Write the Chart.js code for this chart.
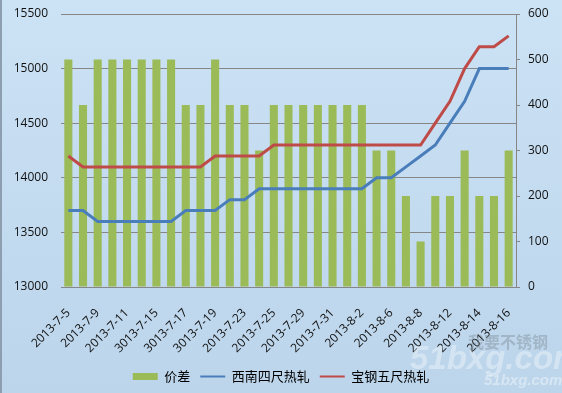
<!DOCTYPE html>
<html>
<head>
<meta charset="utf-8">
<script src="https://cdn.jsdelivr.net/npm/chart.js@4.4.1/dist/chart.umd.min.js"></script>
<style>
    html, body { margin: 0; padding: 0; }
    #wrap {
        position: relative;
        width: 562px;
        height: 393px;
        background: linear-gradient(to bottom, #cce2f5, #bcd5eb);
        box-sizing: border-box;
        border-left: 2px solid #8d9eb0;
        overflow: hidden;
    }
    #wrap canvas { position: absolute; left: -2px; top: 0; }
    .wm { position: absolute; font-family: "Liberation Sans", sans-serif; font-weight: bold; pointer-events: none; white-space: nowrap; }
</style>
</head>
<body>
<div id="wrap">
    <canvas id="chart" width="562" height="393"></canvas>
    <div class="wm" style="left:466px;top:329px;font-size:16px;color:rgba(110,120,130,0.35);font-family:'Noto Sans CJK SC';">我要不锈钢</div>
    <div class="wm" style="left:408px;top:339px;font-size:33px;font-style:italic;color:rgba(255,255,255,0.35);">51bxg.com</div>
    <div class="wm" style="left:482px;top:371px;font-size:15px;font-style:italic;color:rgba(255,255,255,0.4);">51bxg.com</div>
</div>
<script>
// dates (labels as written in the source chart)
const categories = ['2013-7-5', '2013-7-8', '2013-7-9', '2013-7-10', '2013-7-11', '2013-7-12',
    '3013-7-15', '3013-7-16', '3013-7-17', '3013-7-18', '3013-7-19',
    '2013-7-22', '2013-7-23', '2013-7-24', '2013-7-25', '2013-7-26',
    '2013-7-29', '2013-7-30', '2013-7-31', '2013-8-1', '2013-8-2',
    '2013-8-5', '2013-8-6', '2013-8-7', '2013-8-8', '2013-8-9',
    '2013-8-12', '2013-8-13', '2013-8-14', '2013-8-15', '2013-8-16'];

// 价差 (right axis)
const spread = [500, 400, 500, 500, 500, 500, 500, 500, 400, 400, 500, 400, 400, 300, 400,
    400, 400, 400, 400, 400, 400, 300, 300, 200, 100, 200, 200, 300, 200, 200, 300];

// 西南四尺热轧 (left axis)
const xinan = [13700, 13700, 13600, 13600, 13600, 13600, 13600, 13600, 13700, 13700, 13700,
    13800, 13800, 13900, 13900, 13900, 13900, 13900, 13900, 13900, 13900,
    14000, 14000, 14100, 14200, 14300, 14500, 14700, 15000, 15000, 15000];

// 宝钢五尺热轧 (left axis)
const baogang = [14200, 14100, 14100, 14100, 14100, 14100, 14100, 14100, 14100, 14100, 14200,
    14200, 14200, 14200, 14300, 14300, 14300, 14300, 14300, 14300, 14300,
    14300, 14300, 14300, 14300, 14500, 14700, 15000, 15200, 15200, 15300];

const tickFont = { family: 'Open Sans', size: 12 };

// no label overflow padding on the value axes, the plot box is set by hand
function noPad(scale) {
    scale.paddingTop = 0;
    scale.paddingBottom = 0;
}

new Chart(document.getElementById('chart'), {
    data: {
        labels: categories,
        datasets: [{
            type: 'bar',
            label: '价差',
            data: spread,
            yAxisID: 'y1',
            backgroundColor: '#9bbb59',
            borderWidth: 0,
            barPercentage: 0.55,
            categoryPercentage: 1,
            pointStyle: 'rect',
            order: 1
        }, {
            type: 'line',
            label: '西南四尺热轧',
            data: xinan,
            yAxisID: 'y',
            borderColor: '#4a7ebb',
            backgroundColor: '#4a7ebb',
            borderWidth: 3,
            pointRadius: 0,
            tension: 0,
            pointStyle: 'line',
            order: 0
        }, {
            type: 'line',
            label: '宝钢五尺热轧',
            data: baogang,
            yAxisID: 'y',
            borderColor: '#be4b48',
            backgroundColor: '#be4b48',
            borderWidth: 3,
            pointRadius: 0,
            tension: 0,
            pointStyle: 'line',
            order: 0
        }]
    },
    options: {
        responsive: false,
        animation: false,
        layout: { padding: { top: 14, left: 0, right: 0, bottom: 0 } },
        plugins: {
            tooltip: { enabled: false },
            legend: {
                position: 'bottom',
                labels: {
                    usePointStyle: true,
                    pointStyleWidth: 25,
                    boxHeight: 7,
                    padding: 10,
                    color: '#000',
                    font: { family: 'Noto Sans CJK SC', size: 13 },
                    sort: (a, b) => a.datasetIndex - b.datasetIndex,
                    generateLabels: (chart) => {
                        const items = Chart.defaults.plugins.legend.labels.generateLabels(chart);
                        items.forEach(it => { if (it.datasetIndex > 0) it.lineWidth = 2; });
                        return items;
                    }
                }
            }
        },
        scales: {
            x: {
                grid: { display: false },
                border: { display: false },
                ticks: {
                    autoSkip: false,
                    minRotation: 45,
                    maxRotation: 45,
                    padding: 11,
                    color: '#111',
                    font: tickFont,
                    callback: function (value, index) {
                        return index % 2 === 0 ? this.getLabelForValue(value) : '';
                    }
                },
                afterFit: (scale) => { scale.height = 73; }
            },
            y: {
                position: 'left',
                min: 13000,
                max: 15500,
                grid: { color: '#868686', drawTicks: false },
                border: { display: false },
                ticks: { stepSize: 500, padding: 13, color: '#111', font: tickFont, callback: (v) => String(v) },
                afterFit: (scale) => { scale.width = 61; noPad(scale); }
            },
            y1: {
                position: 'right',
                min: 0,
                max: 600,
                grid: { drawOnChartArea: false, color: '#868686', tickLength: 4 },
                border: { display: true, color: '#868686' },
                ticks: { stepSize: 100, padding: 8, color: '#111', font: tickFont, callback: (v) => String(v) },
                afterFit: (scale) => { scale.width = 46; noPad(scale); }
            }
        }
    }
});
</script>
</body>
</html>
